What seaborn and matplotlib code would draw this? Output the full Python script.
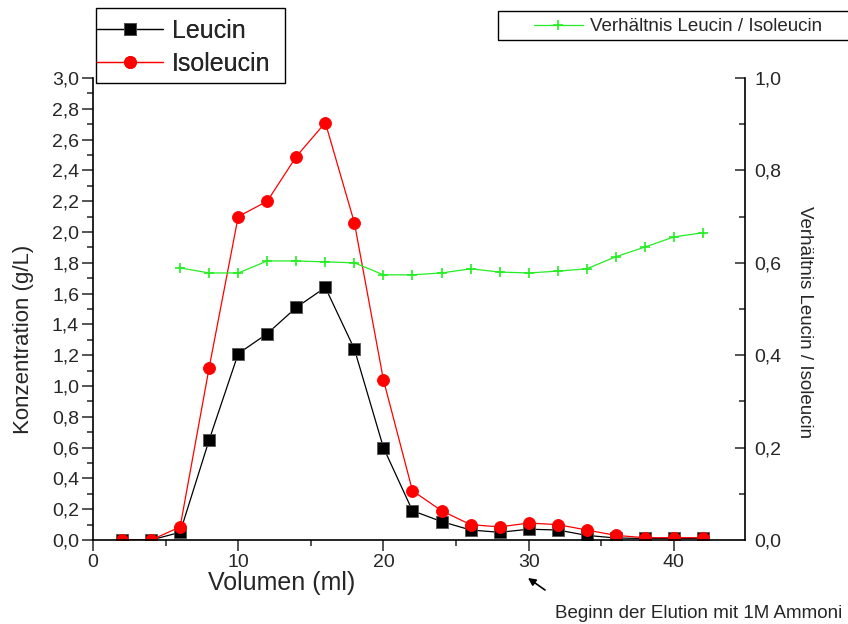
import numpy as np
import pandas as pd
import matplotlib
matplotlib.use("Agg")
import matplotlib.pyplot as plt
import seaborn as sns
from matplotlib.patches import Rectangle
from matplotlib.ticker import MultipleLocator, FuncFormatter

# Daten
volumen = [2, 4, 6, 8, 10, 12, 14, 16, 18, 20, 22, 24, 26, 28, 30, 32, 34, 36, 38, 40, 42]
leucin = [0.0, 0.0, 0.05, 0.65, 1.21, 1.34, 1.51, 1.64, 1.24, 0.60, 0.19, 0.12,
          0.065, 0.05, 0.07, 0.065, 0.03, 0.013, 0.01, 0.01, 0.01]
isoleucin = [0.0, 0.0, 0.085, 1.12, 2.10, 2.20, 2.49, 2.71, 2.06, 1.04, 0.32, 0.19,
             0.10, 0.085, 0.11, 0.10, 0.065, 0.03, 0.015, 0.015, 0.015]
volumen_ratio = [6, 8, 10, 12, 14, 16, 18, 20, 22, 24, 26, 28, 30, 32, 34, 36, 38, 40, 42]
verhaeltnis = [0.589, 0.578, 0.578, 0.604, 0.604, 0.602, 0.600, 0.574, 0.574, 0.578,
               0.587, 0.580, 0.578, 0.582, 0.587, 0.613, 0.634, 0.656, 0.665]

df = pd.DataFrame({'volumen': volumen, 'leucin': leucin, 'isoleucin': isoleucin})
df_ratio = pd.DataFrame({'volumen': volumen_ratio, 'verhaeltnis': verhaeltnis})

sns.set_style("white")
plt.rcParams['font.family'] = ['Liberation Sans', 'DejaVu Sans']

W, H = 848, 624
komma = FuncFormatter(lambda v, p: f"{v:.1f}".replace('.', ','))
gruen = '#22ee22'

fig = plt.figure(figsize=(W / 100, H / 100), dpi=100)
ax = fig.add_axes([93 / W, 1 - 540 / H, (745 - 93) / W, (540 - 78) / H])

# Konzentrationen (linke Achse)
sns.lineplot(data=df, x='volumen', y='leucin', ax=ax, color='black', lw=0.9,
             marker='s', markersize=8, markeredgecolor='#555555', markeredgewidth=0.6,
             label='Leucin')
sns.lineplot(data=df, x='volumen', y='isoleucin', ax=ax, color='red', lw=0.9,
             marker='o', markersize=8.6, markeredgecolor='red', markeredgewidth=0.6,
             label='Isoleucin')

ax.set_xlim(0, 44.9)
ax.set_ylim(0, 3.0)
ax.xaxis.set_major_locator(MultipleLocator(10))
ax.xaxis.set_minor_locator(MultipleLocator(5))
ax.yaxis.set_major_locator(MultipleLocator(0.2))
ax.yaxis.set_minor_locator(MultipleLocator(0.1))
ax.yaxis.set_major_formatter(komma)
ax.tick_params(axis='both', which='major', direction='out', length=8, width=1.1,
               labelsize=14, left=True, bottom=True, pad=2)
ax.tick_params(axis='both', which='minor', direction='out', length=4, width=1.1,
               left=True, bottom=True)
ax.set_xlabel('Volumen (ml)', fontsize=18, va='center')
ax.xaxis.set_label_coords((282 - 93) / 652, (540 - 583) / 462)
ax.set_ylabel('Konzentration (g/L)', fontsize=16, va='center')
ax.yaxis.set_label_coords((24 - 93) / 652, (540 - 339) / 462)
ax.spines['top'].set_visible(False)
ax.spines['right'].set_visible(False)
for s in ['left', 'bottom']:
    ax.spines[s].set_color('black')
    ax.spines[s].set_linewidth(1.2)

# Verhältnis (rechte Achse)
ax2 = ax.twinx()
sns.lineplot(data=df_ratio, x='volumen', y='verhaeltnis', ax=ax2, color=gruen, lw=0.9,
             marker='+', markersize=7.5, markeredgewidth=1.2, markeredgecolor=gruen,
             label='Verhältnis Leucin / Isoleucin')
ax2.set_ylim(0, 1.0)
ax2.yaxis.set_major_locator(MultipleLocator(0.2))
ax2.yaxis.set_minor_locator(MultipleLocator(0.1))
ax2.yaxis.set_major_formatter(komma)
ax2.tick_params(axis='y', which='major', direction='in', length=7, width=1.1,
                labelsize=14, right=True, pad=7)
ax2.tick_params(axis='y', which='minor', direction='in', length=4, width=1.1, right=True)
ax2.set_ylabel('Verhältnis Leucin / Isoleucin', fontsize=13.5, rotation=-90,
               va='center', ha='center')
ax2.yaxis.set_label_coords((804 - 93) / 652, (540 - 322) / 462)
for s in ['top', 'left', 'bottom']:
    ax2.spines[s].set_visible(False)
ax2.spines['right'].set_color('black')
ax2.spines['right'].set_linewidth(1.2)

# Legenden mit eigenem Rahmen
fig.patches.append(Rectangle((96 / W, 1 - 83 / H), (285 - 96) / W, (83 - 8) / H,
                             transform=fig.transFigure, fill=False, ec='black', lw=1))
leg1 = ax.legend(loc='upper left', bbox_to_anchor=(97 / W, 1 - 19 / H),
                 bbox_transform=fig.transFigure, fontsize=18, frameon=False,
                 handlelength=2.64, borderpad=0, borderaxespad=0,
                 labelspacing=0.36, handletextpad=0.36)
ax.add_artist(leg1)

fig.patches.append(Rectangle((498 / W, 1 - 40 / H), (870 - 498) / W, (40 - 11) / H,
                             transform=fig.transFigure, fill=False, ec='black', lw=1))
leg2 = ax2.legend(loc='upper left', bbox_to_anchor=(534 / W, 1 - 18 / H),
                  bbox_transform=fig.transFigure, fontsize=13.5, frameon=False,
                  handlelength=2.6, borderpad=0, borderaxespad=0, handletextpad=0.37)

# Hinweis mit Pfeil
ax.annotate('', xy=(528 / W, 1 - 578 / H), xytext=(545 / W, 1 - 590 / H),
            xycoords='figure fraction', textcoords='figure fraction',
            arrowprops=dict(arrowstyle='-|>', color='black', lw=1.2,
                            shrinkA=0, shrinkB=0, mutation_scale=11),
            annotation_clip=False)
fig.text(555 / W, 1 - 614 / H, 'Beginn der Elution mit 1M Ammoni',
         fontsize=13.5, ha='left', va='center')

fig.savefig('out.png', dpi=100)
